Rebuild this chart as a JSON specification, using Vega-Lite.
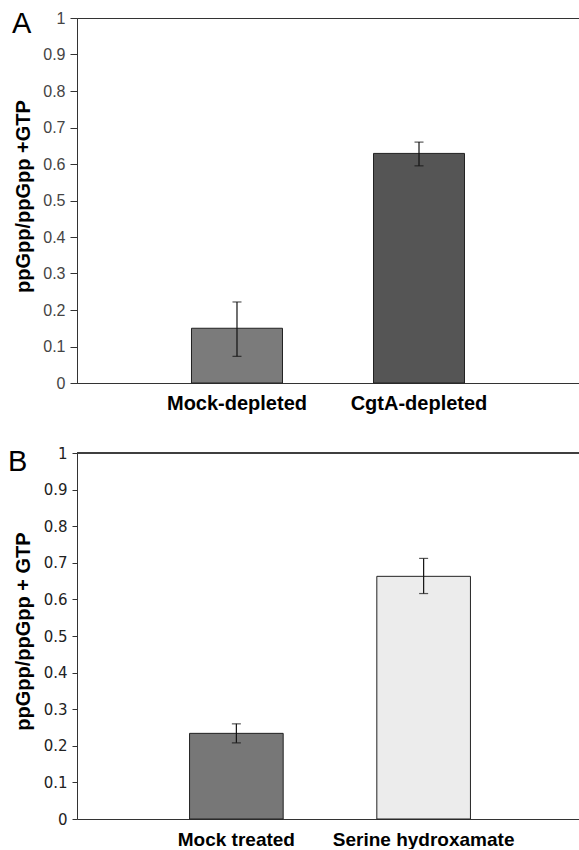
{
  "$schema": "https://vega.github.io/schema/vega-lite/v6.json",
  "padding": {"left": 8, "top": 9, "right": 0, "bottom": 0},
  "background": "white",
  "bounds": "flush",
  "spacing": 70,
  "resolve": {"scale": {"fill": "independent", "x": "independent", "y": "independent"}},
  "config": {
    "axis": {"grid": false, "domainColor": "#333", "tickColor": "#333", "labelLimit": 400},
    "title": {"font": "Liberation Sans", "fontWeight": "normal", "fontSize": 29, "color": "black", "baseline": "alphabetic", "anchor": "start", "frame": "group"}
  },
  "datasets": {
    "a": [
      {"group": "Mock-depleted", "value": 0.15, "lo": 0.073, "hi": 0.222},
      {"group": "CgtA-depleted", "value": 0.629, "lo": 0.595, "hi": 0.66}
    ],
    "b": [
      {"group": "Mock treated", "value": 0.234, "lo": 0.208, "hi": 0.26},
      {"group": "Serine hydroxamate", "value": 0.663, "lo": 0.616, "hi": 0.712}
    ]
  },
  "vconcat": [
    {
      "title": {"text": "A", "dx": -65, "offset": -29},
      "width": 502,
      "height": 365,
      "view": {"stroke": "#333", "strokeWidth": 1},
      "data": {"name": "a"},
      "layer": [
        {
          "mark": {"type": "bar", "stroke": "#222", "strokeWidth": 1},
          "encoding": {
            "x": {
              "field": "group", "type": "nominal", "sort": null,
              "scale": {"paddingInner": 0.5, "paddingOuter": 0.629, "align": 0.5},
              "axis": {"title": null, "labelAngle": 0, "ticks": false, "labelPadding": 10, "labelLimit": 400, "labelFont": "Liberation Sans", "labelFontWeight": "bold", "labelFontSize": 20, "labelColor": "black"}
            },
            "y": {
              "field": "value", "type": "quantitative",
              "scale": {"domain": [0, 1], "nice": false},
              "axis": {
                "title": "ppGpp/ppGpp +GTP", "titleFont": "Liberation Sans", "titleFontSize": 20, "titleFontWeight": "bold", "titleColor": "black",
                "titleX": -48, "titleY": 178, "titleBaseline": "alphabetic", "titleAngle": -90, "titleAlign": "center",
                "values": [0, 0.1, 0.2, 0.3, 0.4, 0.5, 0.6, 0.7, 0.8, 0.9, 1], "format": ".1~f", "labelOverlap": false,
                "labelFont": "Liberation Sans", "labelFontSize": 16, "labelColor": "#444", "tickSize": 7, "labelPadding": 5
              }
            },
            "fill": {"field": "group", "type": "nominal", "scale": {"domain": ["Mock-depleted", "CgtA-depleted"], "range": ["#7b7b7b", "#555555"]}, "legend": null}
          }
        },
        {
          "mark": {"type": "rule", "color": "#111", "strokeWidth": 1.2},
          "encoding": {
            "x": {
              "field": "group", "type": "nominal", "sort": null,
              "axis": {"title": null, "labelAngle": 0, "ticks": false, "labelPadding": 10, "labelLimit": 400, "labelFont": "Liberation Sans", "labelFontWeight": "bold", "labelFontSize": 20, "labelColor": "black"}
            },
            "y": {
              "field": "lo", "type": "quantitative",
              "axis": {
                "title": "ppGpp/ppGpp +GTP", "titleFont": "Liberation Sans", "titleFontSize": 20, "titleFontWeight": "bold", "titleColor": "black",
                "titleX": -48, "titleY": 178, "titleBaseline": "alphabetic", "titleAngle": -90, "titleAlign": "center",
                "values": [0, 0.1, 0.2, 0.3, 0.4, 0.5, 0.6, 0.7, 0.8, 0.9, 1], "format": ".1~f", "labelOverlap": false,
                "labelFont": "Liberation Sans", "labelFontSize": 16, "labelColor": "#444", "tickSize": 7, "labelPadding": 5
              }
            },
            "y2": {"field": "hi"}
          }
        },
        {
          "mark": {"type": "tick", "color": "#111", "size": 9, "thickness": 1.2},
          "encoding": {
            "x": {
              "field": "group", "type": "nominal", "sort": null,
              "axis": {"title": null, "labelAngle": 0, "ticks": false, "labelPadding": 10, "labelLimit": 400, "labelFont": "Liberation Sans", "labelFontWeight": "bold", "labelFontSize": 20, "labelColor": "black"}
            },
            "y": {
              "field": "lo", "type": "quantitative",
              "axis": {
                "title": "ppGpp/ppGpp +GTP", "titleFont": "Liberation Sans", "titleFontSize": 20, "titleFontWeight": "bold", "titleColor": "black",
                "titleX": -48, "titleY": 178, "titleBaseline": "alphabetic", "titleAngle": -90, "titleAlign": "center",
                "values": [0, 0.1, 0.2, 0.3, 0.4, 0.5, 0.6, 0.7, 0.8, 0.9, 1], "format": ".1~f", "labelOverlap": false,
                "labelFont": "Liberation Sans", "labelFontSize": 16, "labelColor": "#444", "tickSize": 7, "labelPadding": 5
              }
            }
          }
        },
        {
          "mark": {"type": "tick", "color": "#111", "size": 9, "thickness": 1.2},
          "encoding": {
            "x": {
              "field": "group", "type": "nominal", "sort": null,
              "axis": {"title": null, "labelAngle": 0, "ticks": false, "labelPadding": 10, "labelLimit": 400, "labelFont": "Liberation Sans", "labelFontWeight": "bold", "labelFontSize": 20, "labelColor": "black"}
            },
            "y": {
              "field": "hi", "type": "quantitative",
              "axis": {
                "title": "ppGpp/ppGpp +GTP", "titleFont": "Liberation Sans", "titleFontSize": 20, "titleFontWeight": "bold", "titleColor": "black",
                "titleX": -48, "titleY": 178, "titleBaseline": "alphabetic", "titleAngle": -90, "titleAlign": "center",
                "values": [0, 0.1, 0.2, 0.3, 0.4, 0.5, 0.6, 0.7, 0.8, 0.9, 1], "format": ".1~f", "labelOverlap": false,
                "labelFont": "Liberation Sans", "labelFontSize": 16, "labelColor": "#444", "tickSize": 7, "labelPadding": 5
              }
            }
          }
        }
      ]
    },
    {
      "title": {"text": "B", "dx": -69, "offset": -31},
      "width": 506,
      "height": 366,
      "view": {"stroke": null},
      "data": {"name": "b"},
      "layer": [
        {
          "mark": {"type": "bar", "stroke": "#222", "strokeWidth": 1},
          "encoding": {
            "x": {
              "field": "group", "type": "nominal", "sort": null,
              "scale": {"paddingInner": 0.5, "paddingOuter": 0.601, "align": 0.5},
              "axis": {"title": null, "labelAngle": 0, "ticks": false, "labelPadding": 11, "labelLimit": 400, "labelFont": "Liberation Sans", "labelFontWeight": "bold", "labelFontSize": 19, "labelColor": "black"}
            },
            "y": {
              "field": "value", "type": "quantitative",
              "scale": {"domain": [0, 1], "nice": false},
              "axis": {
                "title": "ppGpp/ppGpp + GTP", "titleFont": "Liberation Sans", "titleFontSize": 20, "titleFontWeight": "bold", "titleColor": "black",
                "titleX": -48, "titleY": 178, "titleBaseline": "alphabetic", "titleAngle": -90, "titleAlign": "center",
                "values": [0, 0.1, 0.2, 0.3, 0.4, 0.5, 0.6, 0.7, 0.8, 0.9, 1], "format": ".1~f", "labelOverlap": false,
                "labelFont": "DejaVu Sans", "labelFontSize": 15, "labelColor": "#222", "tickSize": 5, "labelPadding": 5
              }
            },
            "fill": {"field": "group", "type": "nominal", "scale": {"domain": ["Mock treated", "Serine hydroxamate"], "range": ["#777777", "#ececec"]}, "legend": null}
          }
        },
        {
          "mark": {"type": "rule", "color": "#333", "strokeWidth": 1.5},
          "encoding": {
            "y": {
              "datum": 1, "type": "quantitative",
              "axis": {
                "title": "ppGpp/ppGpp + GTP", "titleFont": "Liberation Sans", "titleFontSize": 20, "titleFontWeight": "bold", "titleColor": "black",
                "titleX": -48, "titleY": 178, "titleBaseline": "alphabetic", "titleAngle": -90, "titleAlign": "center",
                "values": [0, 0.1, 0.2, 0.3, 0.4, 0.5, 0.6, 0.7, 0.8, 0.9, 1], "format": ".1~f", "labelOverlap": false,
                "labelFont": "DejaVu Sans", "labelFontSize": 15, "labelColor": "#222", "tickSize": 5, "labelPadding": 5
              }
            }
          }
        },
        {
          "mark": {"type": "rule", "color": "#111", "strokeWidth": 1.2},
          "encoding": {
            "x": {
              "field": "group", "type": "nominal", "sort": null,
              "axis": {"title": null, "labelAngle": 0, "ticks": false, "labelPadding": 11, "labelLimit": 400, "labelFont": "Liberation Sans", "labelFontWeight": "bold", "labelFontSize": 19, "labelColor": "black"}
            },
            "y": {
              "field": "lo", "type": "quantitative",
              "axis": {
                "title": "ppGpp/ppGpp + GTP", "titleFont": "Liberation Sans", "titleFontSize": 20, "titleFontWeight": "bold", "titleColor": "black",
                "titleX": -48, "titleY": 178, "titleBaseline": "alphabetic", "titleAngle": -90, "titleAlign": "center",
                "values": [0, 0.1, 0.2, 0.3, 0.4, 0.5, 0.6, 0.7, 0.8, 0.9, 1], "format": ".1~f", "labelOverlap": false,
                "labelFont": "DejaVu Sans", "labelFontSize": 15, "labelColor": "#222", "tickSize": 5, "labelPadding": 5
              }
            },
            "y2": {"field": "hi"}
          }
        },
        {
          "mark": {"type": "tick", "color": "#111", "size": 9, "thickness": 1.2},
          "encoding": {
            "x": {
              "field": "group", "type": "nominal", "sort": null,
              "axis": {"title": null, "labelAngle": 0, "ticks": false, "labelPadding": 11, "labelLimit": 400, "labelFont": "Liberation Sans", "labelFontWeight": "bold", "labelFontSize": 19, "labelColor": "black"}
            },
            "y": {
              "field": "lo", "type": "quantitative",
              "axis": {
                "title": "ppGpp/ppGpp + GTP", "titleFont": "Liberation Sans", "titleFontSize": 20, "titleFontWeight": "bold", "titleColor": "black",
                "titleX": -48, "titleY": 178, "titleBaseline": "alphabetic", "titleAngle": -90, "titleAlign": "center",
                "values": [0, 0.1, 0.2, 0.3, 0.4, 0.5, 0.6, 0.7, 0.8, 0.9, 1], "format": ".1~f", "labelOverlap": false,
                "labelFont": "DejaVu Sans", "labelFontSize": 15, "labelColor": "#222", "tickSize": 5, "labelPadding": 5
              }
            }
          }
        },
        {
          "mark": {"type": "tick", "color": "#111", "size": 9, "thickness": 1.2},
          "encoding": {
            "x": {
              "field": "group", "type": "nominal", "sort": null,
              "axis": {"title": null, "labelAngle": 0, "ticks": false, "labelPadding": 11, "labelLimit": 400, "labelFont": "Liberation Sans", "labelFontWeight": "bold", "labelFontSize": 19, "labelColor": "black"}
            },
            "y": {
              "field": "hi", "type": "quantitative",
              "axis": {
                "title": "ppGpp/ppGpp + GTP", "titleFont": "Liberation Sans", "titleFontSize": 20, "titleFontWeight": "bold", "titleColor": "black",
                "titleX": -48, "titleY": 178, "titleBaseline": "alphabetic", "titleAngle": -90, "titleAlign": "center",
                "values": [0, 0.1, 0.2, 0.3, 0.4, 0.5, 0.6, 0.7, 0.8, 0.9, 1], "format": ".1~f", "labelOverlap": false,
                "labelFont": "DejaVu Sans", "labelFontSize": 15, "labelColor": "#222", "tickSize": 5, "labelPadding": 5
              }
            }
          }
        }
      ]
    }
  ]
}
